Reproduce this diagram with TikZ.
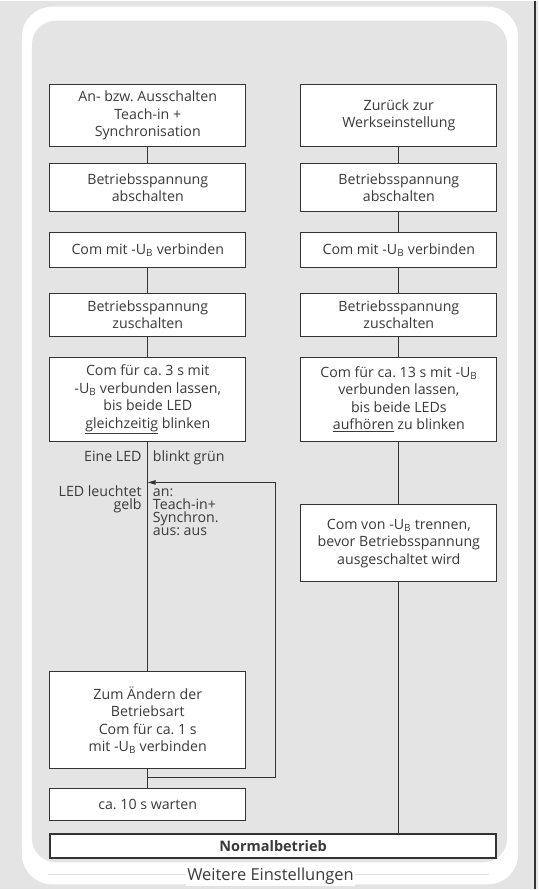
\documentclass[tikz,border=0pt]{standalone}
\usepackage{fontspec}
\setmainfont{Open Sans}
\usetikzlibrary{arrows,arrows.meta,positioning}
\definecolor{framegray}{HTML}{E4E4E4}
\definecolor{linegray}{HTML}{333333}
\definecolor{textgray}{HTML}{3A3A3A}

\begin{document}
\frenchspacing
\begin{tikzpicture}[%
    x=1pt, y=1pt,
    >={Triangle[length=8pt,width=4.5pt]}, % small filled tip for the loop
    node distance=16pt,
    font=\fontsize{14.2}{17.5}\selectfont,
    ]

\tikzset{
  base/.style={draw=linegray, fill=white, text=textgray, align=center, line width=1pt, inner sep=2pt},
  proc/.style={base, minimum width=196pt},
  coord/.style={coordinate},
  norm/.style={draw=linegray, line width=0.9pt},
  lab/.style={text=textgray, inner sep=0pt, font=\fontsize{14.2}{13}\selectfont},
}

  % frame
  \fill[framegray] (0,0) rectangle (539,-890);
  \draw[linegray, line width=1.5pt] (536,0) -- (536,-890);
  \fill[white, rounded corners=30pt] (22,-6) rectangle (519,-885);
  \fill[framegray, rounded corners=24pt] (32,-20) rectangle (508,-863);
  \draw[black!12, line width=0.6pt] (48,-875) -- (490,-875);
  \node[fill=white, text=textgray, inner sep=1pt, font=\fontsize{16.5}{18}\selectfont] (title) at (271,-877) {Weitere Einstellungen};

  % left column
  \node[proc, minimum height=62pt] (on_off) at (148,-115) {An- bzw. Ausschalten\\Teach-in +\\Synchronisation};
  \node[proc, minimum height=48pt, below=of on_off] (off_l) {Betriebsspannung\\abschalten};
  \node[proc, minimum height=35pt, below=20pt of off_l] (com_l) {Com mit -U\textsubscript{B} verbinden};
  \node[proc, minimum height=43pt, below=25pt of com_l] (on_l) {Betriebsspannung\\zuschalten};
  \node[proc, minimum height=84pt, below=20pt of on_l] (hold_l) {Com für ca. 3 s mit\\-U\textsubscript{B} verbunden lassen,\\bis beide LED\\\underline{gleichzeitig} blinken};
  \node[proc, minimum height=97pt, below=230pt of hold_l] (mode) {Zum Ändern der\\Betriebsart\\Com für ca. 1 s\\mit -U\textsubscript{B} verbinden};
  \node[proc, minimum height=32pt, below=19pt of mode] (wait) {ca. 10 s warten};

  % right column
  \node[proc, minimum height=62pt] (reset) at (399.5,-115) {Zurück zur\\Werkseinstellung};
  \node[proc, minimum height=48pt, below=of reset] (off_r) {Betriebsspannung\\abschalten};
  \node[proc, minimum height=35pt, below=20pt of off_r] (com_r) {Com mit -U\textsubscript{B} verbinden};
  \node[proc, minimum height=43pt, below=25pt of com_r] (on_r) {Betriebsspannung\\zuschalten};
  \node[proc, minimum height=84pt, below=20pt of on_r] (hold_r) {Com für ca. 13 s mit -U\textsubscript{B}\\verbunden lassen,\\bis beide LEDs\\\underline{aufhören} zu blinken};
  \node[proc, minimum height=77pt, below=63pt of hold_r] (release) {Com von -U\textsubscript{B} trennen,\\bevor Betriebsspannung\\ausgeschaltet wird};

  \node[base, line width=2pt, minimum width=447pt, minimum height=24pt, font=\fontsize{14.5}{17.5}\selectfont\bfseries] (normal) at (273.5,-846.5) {Normalbetrieb};

  % LED labels (base = last line)
  \node[lab, below left=20pt and 6pt of hold_l.south, anchor=base east] (led_one) {Eine LED};
  \node[lab, below right=20pt and 5pt of hold_l.south, anchor=base west] (led_green) {blinkt grün};
  \node[lab, below left=68pt and 6pt of hold_l.south, anchor=base east, align=right] (led_yellow) {LED leuchtet\\gelb};
  \node[lab, below right=94pt and 5pt of hold_l.south, anchor=base west, align=left] (led_state) {an:\\Teach-in+\\Synchron.\\aus: aus};

  % connectors
  \draw[norm] (on_off) -- (off_l);
  \draw[norm] (com_l) -- (on_l);
  \draw[norm] (on_l) -- (hold_l);
  \draw[norm] (hold_l) -- (mode);
  \draw[norm] (mode) -- (wait);

  \draw[norm] (reset) -- (off_r);
  \draw[norm] (off_r) -- (com_r);
  \draw[norm] (com_r) -- (on_r);
  \draw[norm] (on_r) -- (hold_r);
  \draw[norm] (hold_r) -- (release);
  \draw[norm] (release) -- (release |- normal.north);

  % loop back
  \node[coord, below=8pt of mode] (mode_below) {};
  \node[coord, right=128pt of mode_below] (loop_right) {};
  \node[coord, below=41pt of hold_l] (loop_in) {};
  \draw[norm, ->] (mode_below) -- (loop_right) |- (loop_in);
\end{tikzpicture}
\end{document}
